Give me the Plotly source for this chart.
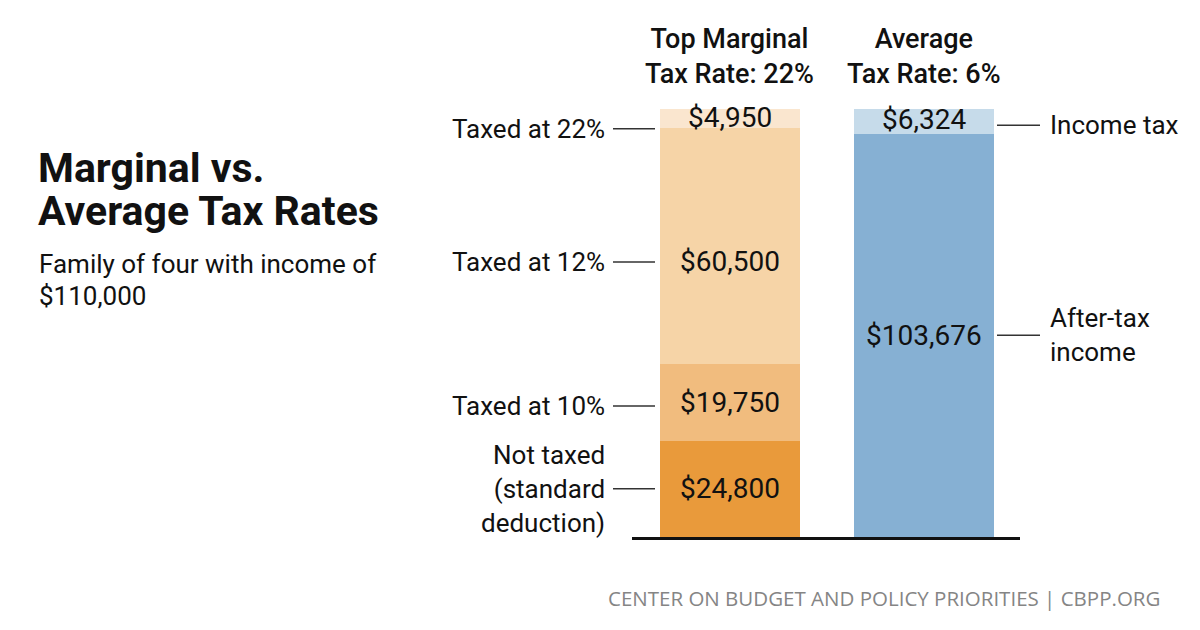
import plotly.graph_objects as go

# ---- data ----
bar_positions = [0, 1]
bar_headers = ["Top Marginal<br>Tax Rate: 22%", "Average<br>Tax Rate: 6%"]

marginal_segments = ["Not taxed<br>(standard<br>deduction)", "Taxed at 10%", "Taxed at 12%", "Taxed at 22%"]
marginal_values = [24800, 19750, 60500, 4950]

average_segments = ["After-tax<br>income", "Income tax"]
average_values = [103676, 6324]

title_lines = ["Marginal vs.", "Average Tax Rates"]
subtitle_lines = ["Family of four with income of", "$110,000"]
source_text = "CENTER ON BUDGET AND POLICY PRIORITIES | CBPP.ORG"

# ---- style ----
W, H = 1200, 630
orange_colors = ["#E99A3B", "#F1BC7E", "#F6D4A7", "#FAE6CF"]
blue_colors = ["#86B0D3", "#C6DBEA"]
FONT = "Roboto"
TXT = "#111111"
BAR_W = 0.72
# small pixel nudges for label placement (style only)
m_shift = [0, -4, -16, -10]
a_shift = [0, -4]
m_val_shift = [0, 0, -16, 1]
a_val_shift = [0, 2]

fig = go.Figure()

for i, (name, val) in enumerate(zip(marginal_segments, marginal_values)):
    fig.add_trace(go.Bar(x=[bar_positions[0]], y=[val], name=name, width=BAR_W,
                         marker=dict(color=orange_colors[i], line=dict(width=0)),
                         hoverinfo="skip", showlegend=False))
for i, (name, val) in enumerate(zip(average_segments, average_values)):
    fig.add_trace(go.Bar(x=[bar_positions[1]], y=[val], name=name, width=BAR_W,
                         marker=dict(color=blue_colors[i], line=dict(width=0)),
                         hoverinfo="skip", showlegend=False))

annotations = []
shapes = []


def mids(values):
    out, c = [], 0
    for v in values:
        out.append(c + v / 2)
        c += v
    return out


# marginal bar values + left labels
for val, mid, lab, sh, vs in zip(marginal_values, mids(marginal_values), marginal_segments, m_shift, m_val_shift):
    annotations.append(dict(x=bar_positions[0], y=mid, xref="x", yref="y", text=f"${val:,.0f}",
                            showarrow=False, yshift=vs,
                            font=dict(family=FONT, size=28, color=TXT)))
    annotations.append(dict(x=607 / W, y=mid, xref="paper", yref="y", text=lab, xanchor="right",
                            align="right", showarrow=False, yshift=sh,
                            font=dict(family=FONT, size=26, color=TXT)))
    shapes.append(dict(type="line", xref="paper", yref="y", x0=613 / W, x1=655 / W,
                       ysizemode="pixel", yanchor=mid, y0=sh, y1=sh,
                       line=dict(color="#333333", width=1.5)))

# average bar values + right labels
for val, mid, lab, sh, vs in zip(average_values, mids(average_values), average_segments, a_shift, a_val_shift):
    annotations.append(dict(x=bar_positions[1], y=mid, xref="x", yref="y", text=f"${val:,.0f}",
                            showarrow=False, yshift=vs,
                            font=dict(family=FONT, size=28, color=TXT)))
    annotations.append(dict(x=1048 / W, y=mid, xref="paper", yref="y", text=lab, xanchor="left",
                            align="left", showarrow=False, yshift=sh,
                            font=dict(family=FONT, size=26, color=TXT)))
    shapes.append(dict(type="line", xref="paper", yref="y", x0=997 / W, x1=1040 / W,
                       ysizemode="pixel", yanchor=mid, y0=sh, y1=sh,
                       line=dict(color="#333333", width=1.5)))

# headers
for xp, hd in zip(bar_positions, bar_headers):
    annotations.append(dict(x=xp, y=1 - 56 / H, xref="x", yref="paper", text=hd, showarrow=False,
                            yanchor="middle", font=dict(family=FONT, size=27, color=TXT, weight=500)))

# title / subtitle / source
for line, py in zip(title_lines, [168, 211]):
    annotations.append(dict(x=36 / W, y=1 - py / H, xref="paper", yref="paper", text=line,
                            xanchor="left", yanchor="middle", showarrow=False,
                            font=dict(family=FONT, size=41, color=TXT, weight="bold")))
for line, py in zip(subtitle_lines, [264, 296]):
    annotations.append(dict(x=37 / W, y=1 - py / H, xref="paper", yref="paper", text=line,
                            xanchor="left", yanchor="middle", showarrow=False,
                            font=dict(family=FONT, size=26, color=TXT)))
annotations.append(dict(x=1162 / W, y=1 - 598 / H, xref="paper", yref="paper", text=source_text,
                        xanchor="right", yanchor="middle", showarrow=False,
                        font=dict(family="Open Sans", size=20.5, color="#858585")))

fig.update_layout(
    width=W, height=H, margin=dict(l=0, r=0, t=0, b=0),
    paper_bgcolor="white", plot_bgcolor="white",
    barmode="stack", bargap=0,
    annotations=annotations, shapes=shapes,
    xaxis=dict(domain=[632 / W, 1020 / W], range=[-0.505, 1.495], showgrid=False, zeroline=False,
               showticklabels=False, ticks="", showline=True, linecolor="#111111", linewidth=3,
               fixedrange=True),
    yaxis=dict(domain=[1 - 537 / H, 1 - 109 / H], range=[0, 110000], showgrid=False, zeroline=False,
               showticklabels=False, ticks="", showline=False, fixedrange=True),
)

fig.write_html("out.html", config={"displayModeBar": False},
               post_script="document.body.style.margin='0';document.body.style.overflow='hidden';")
